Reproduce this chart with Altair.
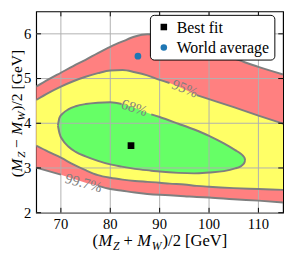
import altair as alt
import pandas as pd

FONT = "Liberation Serif"

# ---- axes ----
X_DOMAIN = [65, 115]
Y_DOMAIN = [2, 6.5]
X_TICKS = [70, 80, 90, 100, 110]
Y_TICKS = [2, 3, 4, 5, 6]

# ---- confidence region boundaries ----
cx = [65, 67.5, 70, 72.5, 75, 77.5, 80, 82.5, 85, 87.5, 90, 92, 95, 97.5, 100, 105, 110, 115]
up997 = [4.82, 4.98, 5.13, 5.28, 5.42, 5.57, 5.71, 5.83, 5.94, 5.99, 5.97, 5.92, 5.82, 5.72, 5.63, 5.45, 5.26, 5.09]
up95 = [4.52, 4.68, 4.82, 4.94, 5.04, 5.12, 5.18, 5.19, 5.14, 5.07, 4.97, 4.90, 4.76, 4.63, 4.54, 4.36, 4.17, 3.99]
lo95 = [3.50, 3.36, 3.23, 3.08, 2.95, 2.84, 2.78, 2.74, 2.71, 2.69, 2.67, 2.65, 2.63, 2.60, 2.58, 2.55, 2.53, 2.51]
lo997 = [3.01, 2.93, 2.85, 2.76, 2.67, 2.60, 2.53, 2.49, 2.45, 2.42, 2.40, 2.39, 2.37, 2.35, 2.34, 2.30, 2.27, 2.23]

gx = [69.4, 69.7, 70.4, 71.5, 73, 75, 77.5, 80, 82.3, 85, 88.3, 90, 93.8, 97, 100, 103, 105.3, 106.3, 106.9, 107.2, 107.3]
g_top = [3.95, 4.12, 4.22, 4.31, 4.38, 4.43, 4.46, 4.47, 4.43, 4.34, 4.20, 4.14, 3.99, 3.86, 3.72, 3.55, 3.40, 3.33, 3.27, 3.22, 3.175]
g_bot = [3.95, 3.78, 3.62, 3.48, 3.36, 3.26, 3.16, 3.08, 3.03, 2.98, 2.94, 2.92, 2.89, 2.88, 2.90, 2.93, 2.99, 3.03, 3.08, 3.13, 3.175]

# ---- points ----
pt_names = ["Best fit", "World average"]
pt_x = [84.2, 85.6]
pt_y = [3.5, 5.5]
pt_colors = ["black", "#1f77b4"]
pt_shapes = ["square", "circle"]

# ---- contour labels ----
lab_text = ["68%", "95%", "99.7%"]
lab_x = [84.9, 95.1, 74.6]
lab_y = [4.35, 4.78, 2.67]

# ---- colours ----
RED, YELLOW, GREEN = "#ff8080", "#ffff66", "#66ff66"
LINE = "#7f7f7f"

W, H = 254, 207

xs = alt.Scale(domain=X_DOMAIN, nice=False, zero=False)
ys = alt.Scale(domain=Y_DOMAIN, nice=False, zero=False)


def X():
    return alt.X("x:Q", scale=xs, axis=None)


def Y(f="y"):
    return alt.Y(f"{f}:Q", scale=ys, axis=None)


band = pd.DataFrame({"x": cx, "u997": up997, "u95": up95, "l95": lo95, "l997": lo997})
green = pd.DataFrame({"x": gx, "top": g_top, "bot": g_bot})

red_area = alt.Chart(band).mark_area(color=RED, interpolate="monotone", clip=True).encode(
    x=X(), y=Y("l997"), y2="u997:Q")
yel_area = alt.Chart(band).mark_area(color=YELLOW, interpolate="monotone", clip=True).encode(
    x=X(), y=Y("l95"), y2="u95:Q")
grn_area = alt.Chart(green).mark_area(color=GREEN, interpolate="monotone", clip=True).encode(
    x=X(), y=Y("bot"), y2="top:Q")

# grid
gridx = alt.Chart(pd.DataFrame({"x": X_TICKS})).mark_rule(color="#b0b0b0", strokeWidth=1).encode(x=X())
gridy = alt.Chart(pd.DataFrame({"y": Y_TICKS})).mark_rule(color="#b0b0b0", strokeWidth=1).encode(y=Y())


def seg_frame(xv, yv, gap=None):
    rows = []
    for a, b in zip(xv, yv):
        if gap is not None and gap[0] < a < gap[1]:
            continue
        s = 0 if (gap is None or a <= gap[0]) else 1
        rows.append({"x": a, "y": b, "seg": s})
    return pd.DataFrame(rows)


def contour_line(df):
    return alt.Chart(df).mark_line(color=LINE, strokeWidth=2, interpolate="monotone", clip=True).encode(
        x=X(), y=Y(), detail="seg:N")


lines = [
    contour_line(seg_frame(cx, up997)),
    contour_line(seg_frame(cx, up95, gap=(92, 97.5))),
    contour_line(seg_frame(cx, lo95)),
    contour_line(seg_frame(cx, lo997, gap=(70, 77.5))),
    contour_line(seg_frame(gx, g_top, gap=(82.3, 88.3))),
    contour_line(seg_frame(gx, g_bot)),
]

angles = [18, 22, 15]
labels = []
for t, lx, ly, ang in zip(lab_text, lab_x, lab_y, angles):
    labels.append(
        alt.Chart(pd.DataFrame({"x": [lx], "y": [ly], "t": [t]})).mark_text(
            font=FONT, fontSize=15, color=LINE, angle=ang, align="center", baseline="middle"
        ).encode(x=X(), y=Y(), text="t:N")
    )

# inward ticks on all four sides
tdx = pd.DataFrame({"x": X_TICKS, "t": [str(v) for v in X_TICKS]})
tdy = pd.DataFrame({"y": Y_TICKS, "t": [str(v) for v in Y_TICKS]})
tick_b = alt.Chart(tdx).mark_rule(color="black", strokeWidth=1).encode(x=X(), y=alt.value(H), y2=alt.value(H - 5))
tick_t = alt.Chart(tdx).mark_rule(color="black", strokeWidth=1).encode(x=X(), y=alt.value(0), y2=alt.value(5))
tick_l = alt.Chart(tdy).mark_rule(color="black", strokeWidth=1).encode(y=Y(), x=alt.value(0), x2=alt.value(5))
tick_r = alt.Chart(tdy).mark_rule(color="black", strokeWidth=1).encode(y=Y(), x=alt.value(W), x2=alt.value(W - 5))

# tick labels
xlab = alt.Chart(tdx).mark_text(font=FONT, fontSize=15, color="black", align="center",
                                baseline="alphabetic").encode(x=X(), y=alt.value(H + 17), text="t:N")
ylab = alt.Chart(tdy).mark_text(font=FONT, fontSize=15, color="black", align="right",
                                baseline="middle").encode(y=Y(), x=alt.value(-5), text="t:N")

# data points
pts = alt.Chart(pd.DataFrame({"x": pt_x, "y": pt_y, "name": pt_names})).mark_point(
    filled=True, opacity=1, size=48).encode(
    x=X(), y=Y(),
    color=alt.Color("name:N", scale=alt.Scale(domain=pt_names, range=pt_colors), legend=None),
    shape=alt.Shape("name:N", scale=alt.Scale(domain=pt_names, range=pt_shapes), legend=None),
)

# legend (drawn as marks)
ONE = alt.Data(values=[{"a": 1}])
leg_box = alt.Chart(ONE).mark_rect(fill="white", stroke="black", strokeWidth=1, cornerRadius=4).encode(
    x=alt.value(117.5), x2=alt.value(245.5), y=alt.value(4), y2=alt.value(50))
leg_items = []
for i, (nm, col, shp) in enumerate(zip(pt_names, pt_colors, pt_shapes)):
    yy = 16 + 21 * i
    leg_items.append(alt.Chart(ONE).mark_point(filled=True, opacity=1, size=45, color=col, shape=shp)
                     .encode(x=alt.value(131.3), y=alt.value(yy)))
    leg_items.append(alt.Chart(ONE).mark_text(text=nm, font=FONT, fontSize=16.3, color="black",
                                              align="left", baseline="middle")
                     .encode(x=alt.value(144.5), y=alt.value(yy + 1)))


def txt(s, x, y, size=17, italic=False, angle=0, align="left"):
    return alt.Chart(ONE).mark_text(
        text=s, font=FONT, fontSize=size, fontStyle="italic" if italic else "normal",
        align=align, baseline="alphabetic", angle=angle, color="black"
    ).encode(x=alt.value(x), y=alt.value(y))


# x-axis title  (M_Z + M_W)/2 [GeV]
xb = 241.5
xtitle = [
    txt("(", 58, xb),
    txt("M", 64, xb, italic=True),
    txt("Z", 79, xb + 3.5, size=12, italic=True),
    txt("+", 94.5, xb, align="center"),
    txt("M", 104, xb, italic=True),
    txt("W", 119, xb + 3.5, size=12, italic=True),
    txt(")/2 [GeV]", 130, xb),
]
# y-axis title  (M_Z - M_W)/2 [GeV]  (rotated)
yb = -14.5
ysz = 16
ytitle = [
    txt("(", yb, 170.5, size=ysz, angle=270),
    txt("M", yb, 165, size=ysz, italic=True, angle=270),
    txt("Z", yb + 3, 150.5, size=11.5, italic=True, angle=270),
    txt("\u2212", yb, 136, size=ysz, angle=270, align="center"),
    txt("M", yb, 127, size=ysz, italic=True, angle=270),
    txt("W", yb + 3, 112.5, size=11.5, italic=True, angle=270),
    txt(")/2 [GeV]", yb, 102, size=ysz, angle=270),
]

chart = alt.layer(
    red_area, yel_area, grn_area, gridx, gridy, *lines, *labels,
    tick_b, tick_t, tick_l, tick_r, xlab, ylab, pts, leg_box, *leg_items, *xtitle, *ytitle
).properties(
    width=W, height=H,
    autosize=alt.AutoSizeParams(type="none"),
    padding={"left": 29, "top": 0, "right": 4, "bottom": 42},
    background="white",
).configure_view(
    stroke="black", strokeWidth=1.2
).configure_text(font=FONT)

chart.save("out.html", embed_options={"renderer": "svg", "actions": False})
